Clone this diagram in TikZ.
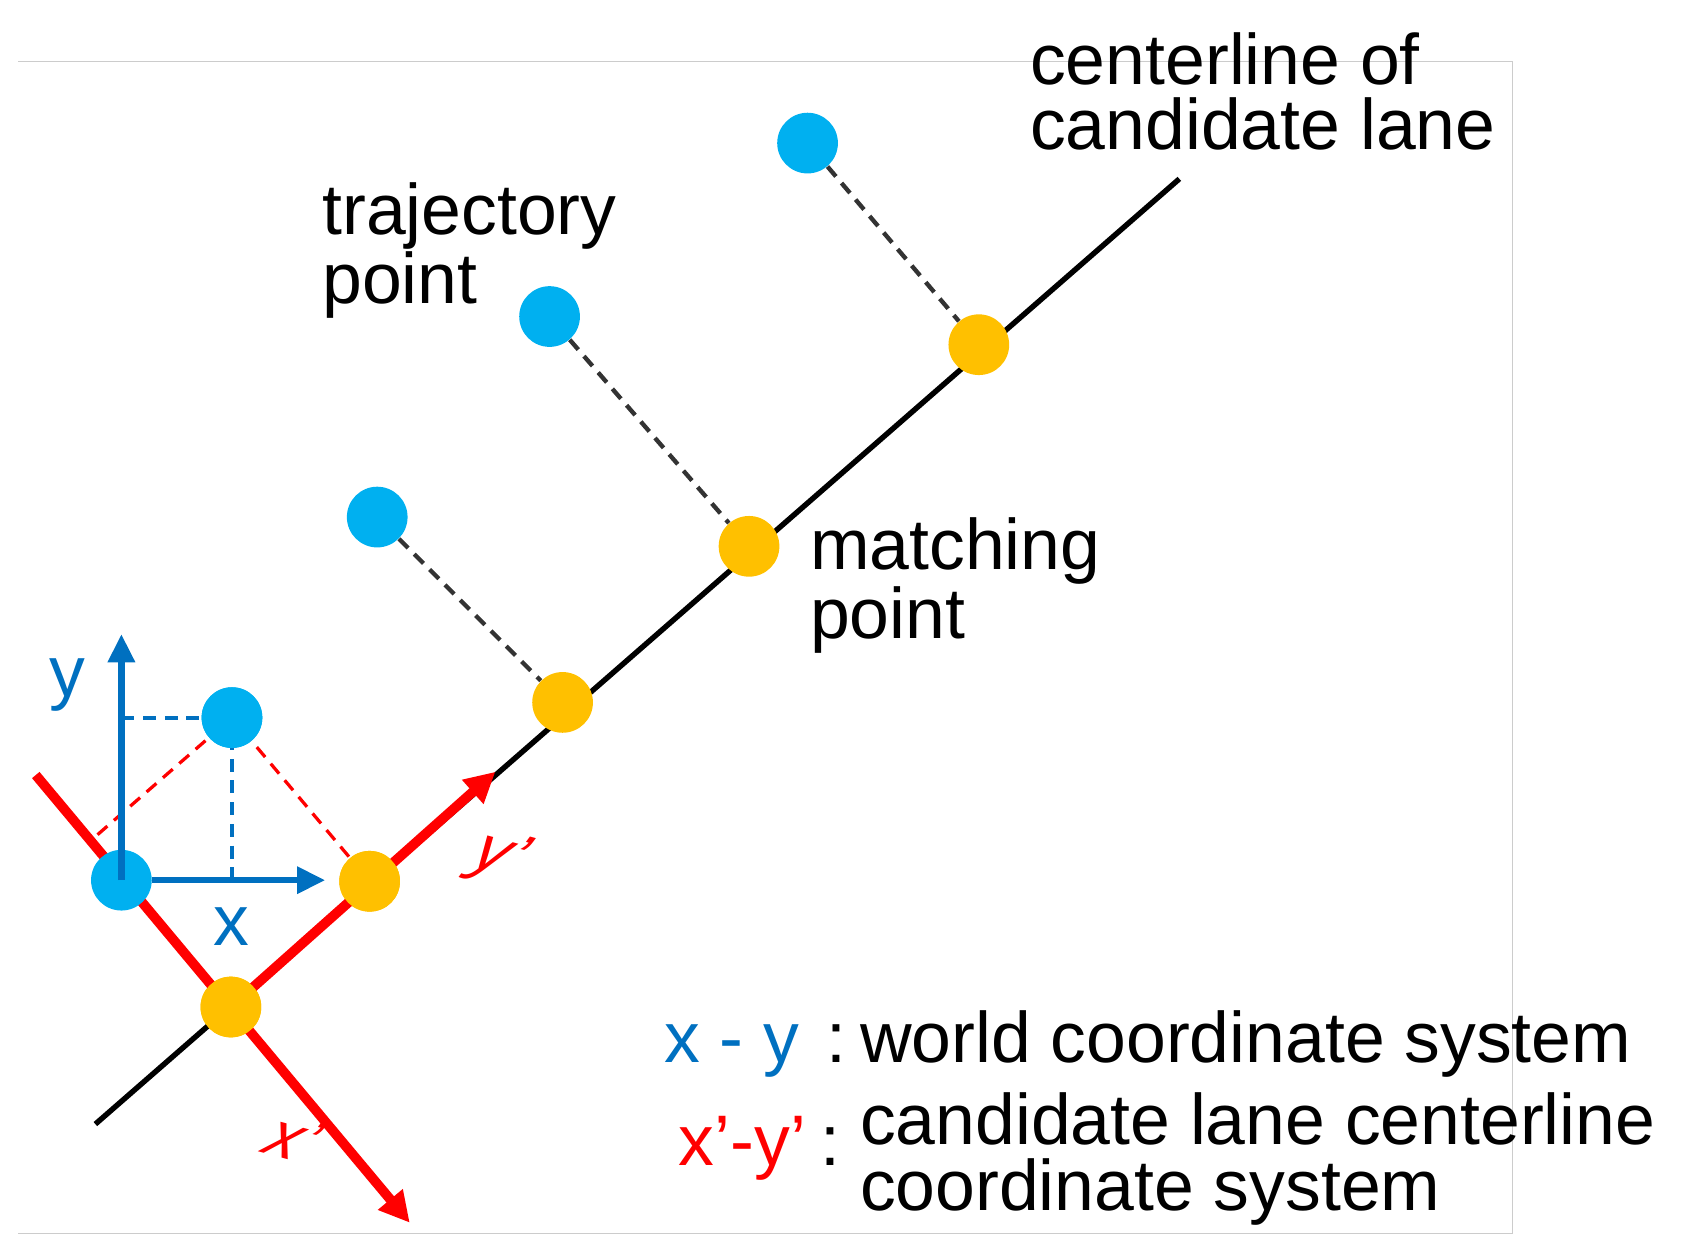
\documentclass[tikz,border=0pt]{standalone}
\usepackage{fontspec}
\setmainfont{Liberation Sans}
\usetikzlibrary{arrows.meta}
\definecolor{cy}{HTML}{00B0F0}
\definecolor{og}{HTML}{FFC000}
\definecolor{bl}{HTML}{0070C0}
\definecolor{rd}{HTML}{FF0000}
\begin{document}
\begin{tikzpicture}[x=0.5pt,y=-0.5pt,
 tp/.style={circle,fill=cy,minimum size=28pt,inner sep=0},
 mp/.style={circle,fill=og,minimum size=28pt,inner sep=0},
 lbl/.style={font=\fontsize{33}{30}\selectfont,align=left,inner sep=0},
 ilbl/.style={font=\fontsize{30}{30}\selectfont,text=rd,inner sep=0,rotate=-15,xslant=0.4},
 proj/.style={black!80,line width=2pt,dash pattern=on 6pt off 4pt},
 rax/.style={rd,line width=4.5pt,-{Triangle[length=14pt,width=14pt]}},
 bax/.style={bl,line width=3pt,-{Triangle[length=13pt,width=12pt]}}]
\useasboundingbox (0,0) rectangle (1560,1161);
\draw[black!20,line width=0.6pt] (17,57) -- (1395,57) -- (1395,1138) -- (17,1138);
\coordinate (c0) at (88,1037); \coordinate (c1) at (1088,165);
\draw[line width=2.5pt] (c0) -- (c1);
\coordinate (xs) at (33,715); \coordinate (xe) at (378,1128);
\coordinate (ye) at (457,712);
\node[tp] (t1) at (745,132) {};
\node[tp] (t2) at (507,292) {};
\node[tp] (t3) at (348,477) {};
\node[tp] (t4) at (214,662) {};
\node[mp] (m1) at (903,318) {};
\node[mp] (m2) at (691,504) {};
\node[mp] (m3) at (519,648) {};
\node[mp] (m4) at (341,813) {};
\node[mp] (o) at (213,929) {};
\draw[proj] (t1) -- (m1);
\draw[proj] (t2) -- (m2);
\draw[proj] (t3) -- (m3);
\draw[rax] (xs) -- (xe);
\draw[rax] (o.center) -- (ye);
\coordinate (rp) at (90,770);
\draw[rd,line width=1.5pt,dash pattern=on 6pt off 4pt] (rp) -- (t4.center) -- (m4.center);
\coordinate (yt) at (112,585); \coordinate (xt) at (300,812);
\coordinate (yk) at (112,662); \coordinate (xk) at (214,812);
\draw[bl,line width=1.8pt,dash pattern=on 6pt off 4pt] (yk) -- (t4.center) -- (xk);
\node[tp] (w) at (112,812) {};
\draw[bax] (w.center) -- (yt);
\draw[bax] (w.east) -- (xt);
\node[mp] at (341,813) {};
\node[mp] at (213,929) {};
\node[tp] at (214,662) {};
\node[lbl,text=bl] (ly) at (62,632) {y};
\node[lbl,text=bl] (lx) at (213,855) {x};
\node[ilbl] (lyp) at (460,792) {y’};
\node[ilbl] (lxp) at (272,1050) {x’};
\node[lbl,anchor=north west] (lt) at (297,168) {trajectory\\point};
\node[lbl,anchor=north west] (lm) at (747,477) {matching\\point};
\node[lbl,anchor=north west] (lc) at (950,30) {centerline of\\candidate lane};
\node[lbl,text=bl,anchor=base] (k1) at (675,980) {x - y};
\node[lbl,anchor=base] (k1c) at (772,980) {:};
\node[lbl,anchor=base west] (k1t) at (793,980) {world coordinate system};
\node[lbl,text=rd,anchor=base] (k2) at (685,1075) {x’-y’};
\node[lbl,anchor=base] (k2c) at (766,1075) {:};
\node[lbl,anchor=base west] (k2t) at (793,1056) {candidate lane centerline};
\node[lbl,anchor=base west] (k2u) at (793,1117) {coordinate system};
\end{tikzpicture}
\end{document}
